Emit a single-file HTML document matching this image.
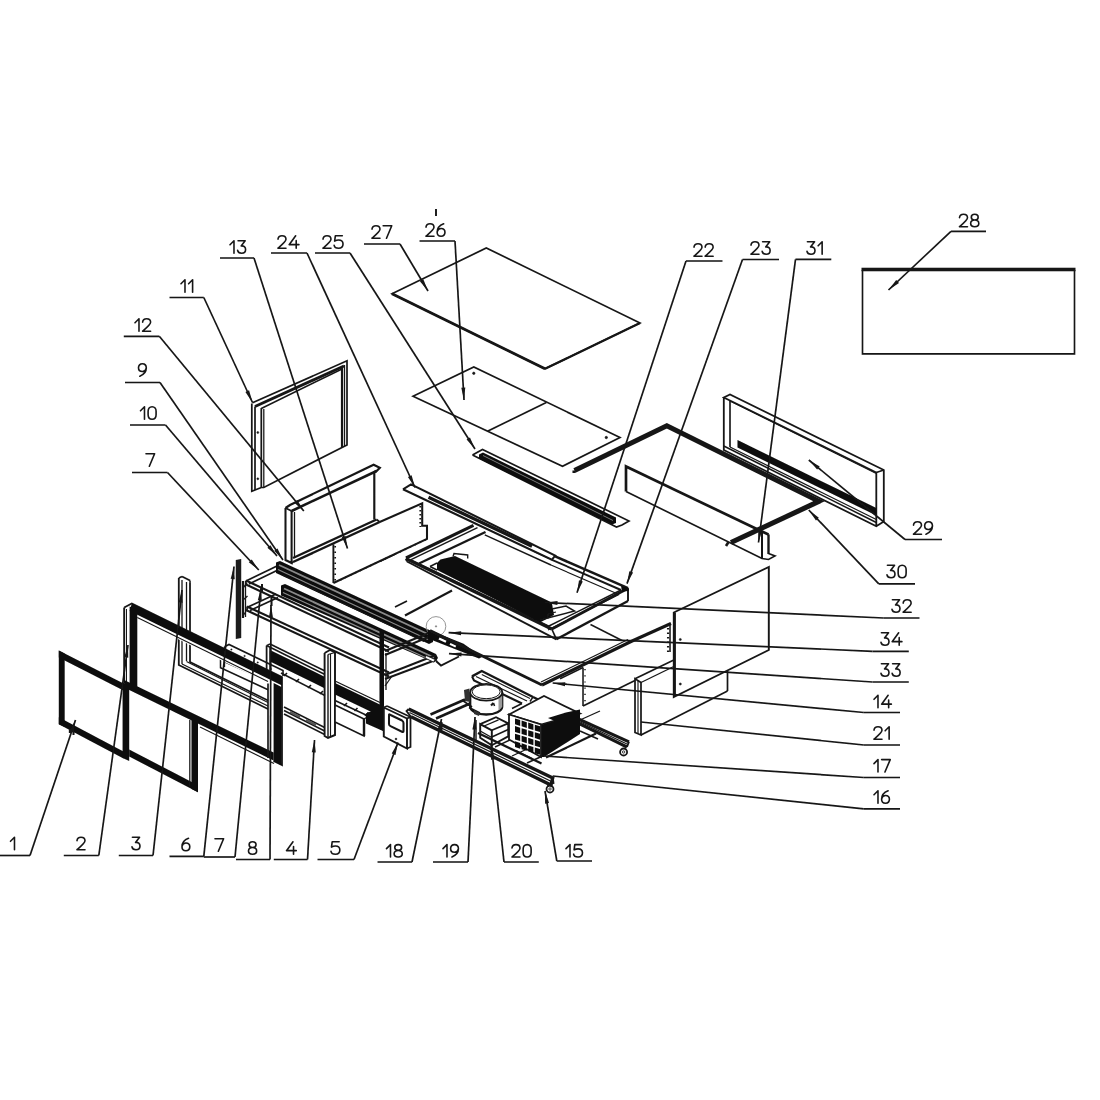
<!DOCTYPE html>
<html><head><meta charset="utf-8"><title>Exploded diagram</title>
<style>
html,body{margin:0;padding:0;background:#fff;font-family:"Liberation Sans",sans-serif;}
svg{display:block}
</style></head><body>
<svg width="1100" height="1100" viewBox="0 0 1100 1100">
<rect width="1100" height="1100" fill="#fff"/>
<defs><filter id="bl" x="0" y="0" width="100%" height="100%" filterUnits="userSpaceOnUse"><feGaussianBlur stdDeviation="0.5"/></filter></defs>
<g stroke-linecap="butt" filter="url(#bl)">
<polyline points="862.5,270 862.5,353.8 1074.5,353.8 1074.5,270" stroke="#161616" stroke-width="1.66" fill="none" stroke-linejoin="miter" />
<line x1="861.5" y1="269.5" x2="1075.5" y2="269.5" stroke="#161616" stroke-width="3.4" />
<polygon points="392,293.8 486.3,248 640,323 545,368.8" stroke="#161616" stroke-width="1.66" fill="none" stroke-linejoin="miter" />
<line x1="392" y1="293.8" x2="545" y2="368.8" stroke="#161616" stroke-width="2.82" />
<line x1="545" y1="368.8" x2="640" y2="323" stroke="#161616" stroke-width="2.3" />
<polygon points="413,396.3 473.8,367 620,437.5 562.5,466.3" stroke="#161616" stroke-width="1.66" fill="none" stroke-linejoin="miter" />
<line x1="487.5" y1="431.3" x2="546.3" y2="402.5" stroke="#161616" stroke-width="1.66" />
<circle cx="473.8" cy="373.3" r="1.2" stroke="#161616" stroke-width="0.6" fill="#161616"/>
<circle cx="606.3" cy="437.5" r="1.2" stroke="#161616" stroke-width="0.6" fill="#161616"/>
<polyline points="723.8,397.5 723.8,450 876.3,526.3 883.8,521.5 883.8,470 730,394.5 723.8,397.5 876.3,472.5 876.3,526.3" stroke="#161616" stroke-width="1.79" fill="none" stroke-linejoin="miter" />
<line x1="876.3" y1="472.5" x2="883.8" y2="470" stroke="#161616" stroke-width="1.66" />
<line x1="730" y1="401" x2="730" y2="447" stroke="#161616" stroke-width="1.66" />
<line x1="730" y1="401" x2="876.3" y2="473.5" stroke="#161616" stroke-width="1.15" />
<line x1="723.8" y1="446" x2="876.3" y2="522.5" stroke="#161616" stroke-width="1.54" />
<line x1="730" y1="447" x2="876.3" y2="519.5" stroke="#161616" stroke-width="1.28" />
<polygon points="737.5,440 876.3,508 876.3,515.5 737.5,447.5" fill="#0c0c0c" stroke="none" stroke-width="0"/>
<polyline points="574.5,470.5 666.8,425.8 819,501.3 731,542.5" stroke="#161616" stroke-width="5.0" fill="none" stroke-linejoin="miter" stroke-linejoin="miter"/>
<line x1="574" y1="470.5" x2="574" y2="473" stroke="#161616" stroke-width="3.07" />
<line x1="728.5" y1="542" x2="726" y2="546" stroke="#161616" stroke-width="2.56" />
<polyline points="626,491.6 762,558.5 768.5,559.5 775,556 768.5,553.5 768.5,534.5" stroke="#161616" stroke-width="1.66" fill="none" stroke-linejoin="miter" />
<polyline points="626,491.6 626,466.5 762,531.5 768.5,534.5" stroke="#161616" stroke-width="2.69" fill="none" stroke-linejoin="miter" />
<line x1="762" y1="531.5" x2="762" y2="558.5" stroke="#161616" stroke-width="2.05" />
<line x1="768.5" y1="534.5" x2="768.5" y2="554" stroke="#161616" stroke-width="2.05" />
<polyline points="472.5,455 482.5,449.5 629,521 622,525 616.5,527 472.5,455" stroke="#161616" stroke-width="1.66" fill="#fff" stroke-linejoin="miter" />
<polygon points="479,454.5 483,452.5 616,517.5 616,523 612,524.5 479,458.5" fill="#0c0c0c" stroke="none" stroke-width="0"/>
<line x1="483" y1="455.5" x2="613" y2="520.5" stroke="#888" stroke-width="0.9" />
<polyline points="379.7,522 422.2,503.3 422.2,525.7 427,525.7 427,538.9 333.4,583" stroke="#161616" stroke-width="2.05" fill="none" stroke-linejoin="miter" />
<line x1="333.4" y1="544.3" x2="333.4" y2="583" stroke="#161616" stroke-width="1.92" />
<line x1="420.3" y1="506" x2="420.3" y2="527" stroke="#161616" stroke-width="1.79" stroke-dasharray="1.5 2.5"/>
<line x1="426" y1="539.5" x2="337" y2="581.5" stroke="#161616" stroke-width="1.66" stroke-dasharray="1.5 4"/>
<line x1="335.2" y1="546" x2="335.2" y2="582" stroke="#161616" stroke-width="1.66" stroke-dasharray="1.5 4"/>
<line x1="380" y1="561.5" x2="395" y2="554.5" stroke="#161616" stroke-width="1.28" />
<line x1="405" y1="615.5" x2="452" y2="590.5" stroke="#161616" stroke-width="2.05" />
<line x1="395" y1="607" x2="407" y2="601" stroke="#161616" stroke-width="1.54" />
<polyline points="542,685 631,641.5 671,623.5" stroke="#161616" stroke-width="3.07" fill="none" stroke-linejoin="miter" />
<line x1="541" y1="682" x2="628" y2="639.5" stroke="#161616" stroke-width="1.15" />
<line x1="590.5" y1="624.5" x2="622" y2="640.5" stroke="#161616" stroke-width="1.54" />
<line x1="560" y1="678.8" x2="583" y2="667.5" stroke="#161616" stroke-width="1.54" />
<line x1="406" y1="558" x2="473.5" y2="525.3" stroke="#161616" stroke-width="3.07" />
<line x1="410.5" y1="559.8" x2="477.5" y2="527.6" stroke="#161616" stroke-width="1.41" />
<line x1="419" y1="563.5" x2="485.5" y2="532" stroke="#161616" stroke-width="2.3" />
<line x1="484.8" y1="534.8" x2="551" y2="565" stroke="#161616" stroke-width="1.41" />
<line x1="555.2" y1="556.4" x2="628" y2="588.2" stroke="#161616" stroke-width="2.56" />
<line x1="552" y1="559.8" x2="621" y2="590" stroke="#161616" stroke-width="1.92" />
<line x1="551" y1="565" x2="619" y2="594.5" stroke="#161616" stroke-width="1.15" />
<line x1="628" y1="588.2" x2="628" y2="601" stroke="#161616" stroke-width="1.92" />
<line x1="628" y1="588.2" x2="551.8" y2="629" stroke="#161616" stroke-width="2.82" />
<polygon points="621,586 628.5,588 628.5,591 622,591.5" fill="#0c0c0c" stroke="none" stroke-width="0"/>
<line x1="621" y1="590" x2="549" y2="626" stroke="#161616" stroke-width="1.41" />
<line x1="619" y1="594.5" x2="548" y2="630" stroke="#161616" stroke-width="1.15" />
<line x1="628" y1="601" x2="556.4" y2="639.3" stroke="#161616" stroke-width="2.43" />
<line x1="406" y1="558.6" x2="551.8" y2="629" stroke="#161616" stroke-width="3.07" />
<line x1="407" y1="561.5" x2="556.4" y2="639.3" stroke="#161616" stroke-width="1.92" />
<line x1="410.5" y1="559.5" x2="549" y2="626" stroke="#161616" stroke-width="1.28" />
<line x1="551.8" y1="629" x2="556.4" y2="639.3" stroke="#161616" stroke-width="1.66" />
<line x1="406" y1="558.6" x2="407" y2="561.5" stroke="#161616" stroke-width="1.92" />
<polygon points="440.5,559.5 455,556 551.8,602.5 554,615 540.5,622.3 437,570 437,563" fill="#0c0c0c" stroke="none" stroke-width="0"/>
<polyline points="453,556.4 454,553.5 467.7,555 467.7,558.5" stroke="#161616" stroke-width="1.41" fill="none" stroke-linejoin="miter" />
<polyline points="540,620 574.5,611 566,606 551.8,609" stroke="#161616" stroke-width="1.54" fill="none" stroke-linejoin="miter" />
<polyline points="548,618.5 548,614 556,612" stroke="#161616" stroke-width="1.28" fill="none" stroke-linejoin="miter" />
<line x1="430" y1="566.5" x2="437" y2="563" stroke="#161616" stroke-width="1.41" />
<line x1="430" y1="566.5" x2="437" y2="570" stroke="#161616" stroke-width="1.41" />
<polyline points="403,489.3 411,484.3 555.2,555.6 551.8,559.8 403,489.3" stroke="#161616" stroke-width="2.05" fill="#fff" stroke-linejoin="miter" />
<line x1="428.5" y1="497.3" x2="532" y2="546.3" stroke="#161616" stroke-width="3.3" />
<line x1="533" y1="551" x2="548" y2="558" stroke="#161616" stroke-width="1.15" />
<polyline points="285.5,508 285.5,560 291.6,563 291.6,511" stroke="#161616" stroke-width="2.05" fill="#fff" stroke-linejoin="miter" />
<polyline points="285.5,508 290,505 373.6,464.7 379.8,467.8 376.6,471 374.3,472 374.3,519.5" stroke="#161616" stroke-width="2.18" fill="none" stroke-linejoin="miter" />
<line x1="285.5" y1="508" x2="291.6" y2="511" stroke="#161616" stroke-width="1.79" />
<line x1="291.6" y1="511" x2="376.6" y2="471" stroke="#161616" stroke-width="2.56" />
<line x1="293" y1="558" x2="376.6" y2="519.5" stroke="#161616" stroke-width="2.3" />
<line x1="293" y1="562" x2="379.7" y2="522" stroke="#161616" stroke-width="2.43" />
<line x1="291.6" y1="563" x2="293" y2="562" stroke="#161616" stroke-width="1.66" />
<line x1="376.6" y1="519.5" x2="379.7" y2="522" stroke="#161616" stroke-width="1.66" />
<line x1="294.5" y1="512" x2="294.5" y2="557" stroke="#161616" stroke-width="1.28" />
<polyline points="251.8,403.5 251.8,491.3 255,490 261.3,487.5 263.8,487.5 342,447.5 347,445 347,360.8 252.5,402.8" stroke="#161616" stroke-width="1.73" fill="none" stroke-linejoin="miter" />
<line x1="255" y1="406.5" x2="255" y2="490" stroke="#161616" stroke-width="1.73" />
<line x1="261.3" y1="408" x2="261.3" y2="487.5" stroke="#161616" stroke-width="1.73" />
<line x1="263.8" y1="409" x2="263.8" y2="487.5" stroke="#161616" stroke-width="1.28" />
<line x1="255" y1="406.5" x2="344" y2="366" stroke="#161616" stroke-width="2.94" />
<line x1="261.3" y1="408.5" x2="342" y2="369" stroke="#161616" stroke-width="1.54" />
<line x1="342" y1="367.5" x2="342" y2="447.5" stroke="#161616" stroke-width="2.18" />
<line x1="344.5" y1="365" x2="344.5" y2="446" stroke="#161616" stroke-width="1.28" />
<circle cx="257.8" cy="432.5" r="1.0" stroke="#161616" stroke-width="0.5" fill="#161616"/>
<circle cx="257.8" cy="478.8" r="1.0" stroke="#161616" stroke-width="0.5" fill="#161616"/>
<line x1="583" y1="667.5" x2="583" y2="706" stroke="#161616" stroke-width="1.54" />
<line x1="583" y1="706" x2="635" y2="680.5" stroke="#161616" stroke-width="1.66" />
<line x1="670" y1="625" x2="670" y2="652" stroke="#161616" stroke-width="1.54" />
<line x1="668" y1="628" x2="668" y2="652" stroke="#161616" stroke-width="2.05" stroke-dasharray="1.5 3"/>
<line x1="585" y1="669" x2="585" y2="704" stroke="#161616" stroke-width="1.41" stroke-dasharray="1.2 5"/>
<polygon points="635,678.8 635,732.5 641,735 641,682.5" stroke="#161616" stroke-width="1.73" fill="#fff" stroke-linejoin="miter" />
<line x1="635" y1="678.8" x2="673.8" y2="660" stroke="#161616" stroke-width="1.73" />
<line x1="641" y1="682.5" x2="673.8" y2="666.5" stroke="#161616" stroke-width="1.28" />
<line x1="641" y1="735" x2="727.5" y2="691" stroke="#161616" stroke-width="1.73" />
<line x1="727.5" y1="671" x2="727.5" y2="691" stroke="#161616" stroke-width="1.73" />
<line x1="638" y1="680.5" x2="638" y2="733.5" stroke="#161616" stroke-width="1.15" />
<polygon points="673.8,612.5 768.8,567 768.8,650 673.8,697" stroke="#161616" stroke-width="1.92" fill="#fff" stroke-linejoin="miter" />
<line x1="674.5" y1="612.5" x2="674.5" y2="697" stroke="#161616" stroke-width="2.82" />
<circle cx="680.3" cy="639.5" r="1.1" stroke="#161616" stroke-width="0.5" fill="#161616"/>
<circle cx="680.3" cy="684" r="1.1" stroke="#161616" stroke-width="0.5" fill="#161616"/>
<line x1="575" y1="717.5" x2="629" y2="741.8" stroke="#161616" stroke-width="3.07" />
<line x1="577" y1="722.5" x2="627" y2="747" stroke="#161616" stroke-width="3.07" />
<line x1="576" y1="720" x2="628" y2="744.5" stroke="#161616" stroke-width="1.15" />
<line x1="629" y1="741.8" x2="627" y2="747" stroke="#161616" stroke-width="1.79" />
<circle cx="623.6" cy="752" r="3.5" stroke="#161616" stroke-width="1.8" fill="none"/>
<circle cx="623.6" cy="752" r="1.2" stroke="#161616" stroke-width="0.8" fill="none"/>
<line x1="580" y1="720" x2="600" y2="711" stroke="#161616" stroke-width="1.28" />
<line x1="430.5" y1="714.5" x2="465" y2="699.5" stroke="#161616" stroke-width="2.56" />
<line x1="436" y1="718.5" x2="470" y2="703.5" stroke="#161616" stroke-width="2.56" />
<line x1="467.5" y1="704.5" x2="479" y2="710" stroke="#161616" stroke-width="1.41" />
<polyline points="472,676.4 481.8,671 533,697" stroke="#161616" stroke-width="2.43" fill="none" stroke-linejoin="miter" />
<polyline points="472,676.4 474,680.5 522,703.5" stroke="#161616" stroke-width="2.05" fill="none" stroke-linejoin="miter" />
<line x1="476" y1="676.5" x2="527" y2="701" stroke="#161616" stroke-width="1.28" />
<line x1="481.8" y1="674.5" x2="530" y2="698.5" stroke="#161616" stroke-width="1.15" />
<line x1="533" y1="697" x2="575" y2="717.5" stroke="#161616" stroke-width="2.3" />
<line x1="522" y1="703.5" x2="512" y2="708.5" stroke="#161616" stroke-width="1.41" />
<line x1="533" y1="697" x2="530" y2="701.5" stroke="#161616" stroke-width="1.41" />
<path d="M470.2 692.3 L470.2 706.5 A16 8 0 0 0 502.2 706.5 L502.2 692.3" stroke="#161616" stroke-width="2.3" fill="#fff"/>
<polygon points="498.5,697 502.2,694 502.2,707 498.5,710.5" fill="#9a9a9a" stroke="none" stroke-width="0"/>
<ellipse cx="486.2" cy="692.3" rx="16" ry="8.4" stroke="#161616" stroke-width="1.8" fill="#fff" transform="rotate(0 486.2 692.3)"/>
<ellipse cx="486.2" cy="691.8" rx="14" ry="6.9" stroke="#161616" stroke-width="1.0" fill="none" transform="rotate(0 486.2 691.8)"/>
<polygon points="464,690 469.5,688.5 470,702 465,701" fill="#333" stroke="none" stroke-width="0"/>
<line x1="462" y1="700" x2="472" y2="707" stroke="#161616" stroke-width="1.66" />
<line x1="469" y1="707.5" x2="480" y2="713" stroke="#161616" stroke-width="1.66" />
<line x1="491" y1="705.5" x2="493.5" y2="703" stroke="#161616" stroke-width="2.05" />
<line x1="493.5" y1="703" x2="494.5" y2="706" stroke="#161616" stroke-width="1.54" />
<polygon points="474,710 480,713 479,716 474,714" fill="#333" stroke="none" stroke-width="0"/>
<polygon points="480.2,724.1 491.8,730.3 491.8,745.3 480.2,737.8" stroke="#161616" stroke-width="1.92" fill="#fff" stroke-linejoin="miter" />
<polyline points="491.8,730.3 508.2,723.4 508.2,736.4 491.8,745.3" stroke="#161616" stroke-width="1.79" fill="none" stroke-linejoin="miter" />
<polyline points="480.2,724.1 496,717.2 508.2,723.4" stroke="#161616" stroke-width="1.79" fill="none" stroke-linejoin="miter" />
<line x1="483" y1="726.5" x2="498.5" y2="719.8" stroke="#161616" stroke-width="1.28" />
<line x1="491.8" y1="737" x2="508.2" y2="729.5" stroke="#161616" stroke-width="1.41" />
<line x1="480.2" y1="731" x2="491.8" y2="737.5" stroke="#161616" stroke-width="1.41" />
<line x1="478" y1="733" x2="541.5" y2="763.5" stroke="#161616" stroke-width="2.3" />
<line x1="495" y1="747" x2="512" y2="739" stroke="#161616" stroke-width="1.41" />
<line x1="512" y1="756" x2="540" y2="743" stroke="#161616" stroke-width="1.28" />
<line x1="516" y1="750.5" x2="532" y2="758.5" stroke="#161616" stroke-width="1.28" />
<line x1="527" y1="763" x2="541.5" y2="756.5" stroke="#161616" stroke-width="1.54" />
<line x1="546" y1="757.5" x2="596" y2="733.5" stroke="#161616" stroke-width="2.18" />
<line x1="580" y1="731" x2="598" y2="739" stroke="#161616" stroke-width="1.54" />
<polygon points="541,724.5 580,713.5 580,734 544,757 541,757" fill="#0c0c0c" stroke="none" stroke-width="0"/>
<polygon points="509,714.5 544,696 580,713.5 541,724.5" stroke="#161616" stroke-width="1.79" fill="#fff" stroke-linejoin="miter" />
<polygon points="509,714.5 541,724.5 541,757 509,739.5" stroke="#161616" stroke-width="1.79" fill="#fff" stroke-linejoin="miter" />
<polygon points="566,712.5 580,709.5 580,714 556,721.5 548,718" fill="#0c0c0c" stroke="none" stroke-width="0"/>
<polygon points="515.0,718.5 520.2,720.1 520.2,725.9 515.0,724.3" fill="#0c0c0c" stroke="none" stroke-width="0"/>
<polygon points="521.6,720.55 526.8000000000001,722.15 526.8000000000001,727.9499999999999 521.6,726.3499999999999" fill="#0c0c0c" stroke="none" stroke-width="0"/>
<polygon points="528.2,722.6 533.4000000000001,724.2 533.4000000000001,730.0 528.2,728.4" fill="#0c0c0c" stroke="none" stroke-width="0"/>
<polygon points="534.8,724.65 540.0,726.25 540.0,732.05 534.8,730.4499999999999" fill="#0c0c0c" stroke="none" stroke-width="0"/>
<polygon points="515.0,726.1 520.2,727.7 520.2,733.5 515.0,731.9" fill="#0c0c0c" stroke="none" stroke-width="0"/>
<polygon points="521.6,728.15 526.8000000000001,729.75 526.8000000000001,735.55 521.6,733.9499999999999" fill="#0c0c0c" stroke="none" stroke-width="0"/>
<polygon points="528.2,730.2 533.4000000000001,731.8000000000001 533.4000000000001,737.6 528.2,736.0" fill="#0c0c0c" stroke="none" stroke-width="0"/>
<polygon points="534.8,732.25 540.0,733.85 540.0,739.65 534.8,738.05" fill="#0c0c0c" stroke="none" stroke-width="0"/>
<polygon points="515.0,733.7 520.2,735.3000000000001 520.2,741.1 515.0,739.5" fill="#0c0c0c" stroke="none" stroke-width="0"/>
<polygon points="521.6,735.75 526.8000000000001,737.35 526.8000000000001,743.15 521.6,741.55" fill="#0c0c0c" stroke="none" stroke-width="0"/>
<polygon points="528.2,737.8000000000001 533.4000000000001,739.4000000000001 533.4000000000001,745.2 528.2,743.6" fill="#0c0c0c" stroke="none" stroke-width="0"/>
<polygon points="534.8,739.85 540.0,741.45 540.0,747.25 534.8,745.65" fill="#0c0c0c" stroke="none" stroke-width="0"/>
<polygon points="515.0,741.3 520.2,742.9 520.2,748.6999999999999 515.0,747.0999999999999" fill="#0c0c0c" stroke="none" stroke-width="0"/>
<polygon points="521.6,743.3499999999999 526.8000000000001,744.9499999999999 526.8000000000001,750.7499999999999 521.6,749.1499999999999" fill="#0c0c0c" stroke="none" stroke-width="0"/>
<polygon points="528.2,745.4 533.4000000000001,747.0 533.4000000000001,752.8 528.2,751.1999999999999" fill="#0c0c0c" stroke="none" stroke-width="0"/>
<polygon points="534.8,747.4499999999999 540.0,749.05 540.0,754.8499999999999 534.8,753.2499999999999" fill="#0c0c0c" stroke="none" stroke-width="0"/>
<polyline points="408.7,709 552.7,778 551,785 411,716.7" stroke="#161616" stroke-width="3.33" fill="none" stroke-linejoin="miter" />
<line x1="409.5" y1="712.5" x2="551.5" y2="781.5" stroke="#161616" stroke-width="1.28" />
<polyline points="408.7,709 406.5,711 411,716.7" stroke="#161616" stroke-width="1.79" fill="none" stroke-linejoin="miter" />
<line x1="552.7" y1="778" x2="553.5" y2="784" stroke="#161616" stroke-width="2.05" />
<circle cx="550" cy="789" r="3.5" stroke="#161616" stroke-width="1.8" fill="none"/>
<circle cx="550" cy="789" r="1.2" stroke="#161616" stroke-width="0.8" fill="none"/>
<line x1="548" y1="784.5" x2="548" y2="787" stroke="#161616" stroke-width="1.54" />
<line x1="441.5" y1="722" x2="441.5" y2="730" stroke="#161616" stroke-width="2.05" />
<line x1="491.5" y1="745" x2="491.5" y2="755" stroke="#161616" stroke-width="2.05" />
<line x1="476" y1="720" x2="476" y2="741" stroke="#161616" stroke-width="1.41" />
<polygon points="235.8,560 241.2,559 241.2,638 235.8,639" fill="#1a1a1a" stroke="none" stroke-width="0"/>
<line x1="243" y1="581" x2="243" y2="618" stroke="#161616" stroke-width="2.18" />
<line x1="245.5" y1="581" x2="245.5" y2="617" stroke="#161616" stroke-width="1.28" />
<polyline points="243,588 247,583" stroke="#161616" stroke-width="1.28" fill="none" stroke-linejoin="miter" />
<polyline points="243,616 248,608" stroke="#161616" stroke-width="1.28" fill="none" stroke-linejoin="miter" />
<polyline points="243,600 247.5,596" stroke="#161616" stroke-width="1.28" fill="none" stroke-linejoin="miter" />
<line x1="247" y1="580.5" x2="277" y2="566" stroke="#161616" stroke-width="1.79" />
<line x1="249" y1="584" x2="279" y2="569.5" stroke="#161616" stroke-width="1.79" />
<line x1="248" y1="607" x2="276" y2="594" stroke="#161616" stroke-width="1.79" />
<line x1="250" y1="610.5" x2="278" y2="597.5" stroke="#161616" stroke-width="1.79" />
<line x1="246" y1="580.5" x2="389" y2="647.5" stroke="#161616" stroke-width="2.05" />
<line x1="246" y1="584.5" x2="389" y2="651.5" stroke="#161616" stroke-width="2.05" />
<line x1="246" y1="580.5" x2="246" y2="584.5" stroke="#161616" stroke-width="1.54" />
<line x1="247" y1="606.5" x2="389" y2="672.5" stroke="#161616" stroke-width="2.05" />
<line x1="247" y1="610.5" x2="389" y2="676.5" stroke="#161616" stroke-width="2.05" />
<line x1="247" y1="606.5" x2="247" y2="610.5" stroke="#161616" stroke-width="1.54" />
<polygon points="276,562.5 280,561 433,632 433,642 429,644 276,573" fill="#0c0c0c" stroke="none" stroke-width="0"/>
<line x1="279" y1="565" x2="431" y2="635.5" stroke="#8a8a8a" stroke-width="1.92" />
<line x1="278" y1="569.5" x2="428" y2="639.5" stroke="#8a8a8a" stroke-width="1.15" />
<polygon points="281,585.5 285,584 436,654 438,658 434,662.5 281,595.5" fill="#0c0c0c" stroke="none" stroke-width="0"/>
<line x1="284" y1="588.5" x2="434" y2="657.5" stroke="#8a8a8a" stroke-width="1.92" />
<line x1="283" y1="592.5" x2="433" y2="661" stroke="#8a8a8a" stroke-width="1.15" />
<line x1="283" y1="575" x2="424" y2="641.5" stroke="#161616" stroke-width="1.28" />
<polygon points="379.5,629 384,631 384,731 379.5,729" fill="#0c0c0c" stroke="none" stroke-width="0"/>
<line x1="386" y1="653" x2="386" y2="690" stroke="#161616" stroke-width="1.28" />
<line x1="385" y1="651" x2="430" y2="632.5" stroke="#161616" stroke-width="1.92" />
<line x1="385" y1="655" x2="431" y2="636" stroke="#161616" stroke-width="1.92" />
<line x1="385" y1="675" x2="436" y2="655" stroke="#161616" stroke-width="1.92" />
<line x1="385" y1="679" x2="437" y2="659.5" stroke="#161616" stroke-width="1.92" />
<polyline points="385,686 392,676" stroke="#161616" stroke-width="1.28" fill="none" stroke-linejoin="miter" />
<line x1="262" y1="584" x2="262" y2="592" stroke="#161616" stroke-width="2.05" />
<line x1="271.5" y1="596" x2="271.5" y2="606" stroke="#161616" stroke-width="2.05" />
<circle cx="436" cy="626.4" r="9.8" stroke="#8a8a8a" stroke-width="0.9" fill="none"/>
<circle cx="436" cy="626.4" r="0.8" stroke="#777" stroke-width="0.3" fill="#777"/>
<polygon points="428,629.5 463.6,643.8 482,657 479,658.5 428,638.5" fill="#0c0c0c" stroke="none" stroke-width="0"/>
<polygon points="439.5,637.5 446.5,640.7 445.5,642.7 438.5,639.5" fill="#fff" stroke="none" stroke-width="0"/>
<polygon points="450.5,643 456.3,645.7 455.3,647.5 449.5,644.8" fill="#fff" stroke="none" stroke-width="0"/>
<line x1="430" y1="630.5" x2="542" y2="685" stroke="#161616" stroke-width="2.94" />
<polyline points="436,661 441,665.5 459,656.5" stroke="#161616" stroke-width="1.92" fill="none" stroke-linejoin="miter" />
<polygon points="426,655.5 435,659.5 433.5,662 425,658" fill="#fff" stroke="#161616" stroke-width="0.8"/>
<polyline points="178.8,578 178.8,665 270,710" stroke="#161616" stroke-width="1.79" fill="none" stroke-linejoin="miter" />
<polyline points="190,583 190,662 270,701.5" stroke="#161616" stroke-width="1.79" fill="none" stroke-linejoin="miter" />
<line x1="182" y1="580" x2="182" y2="664" stroke="#161616" stroke-width="1.28" />
<line x1="186.5" y1="582" x2="186.5" y2="661" stroke="#161616" stroke-width="1.28" />
<line x1="178.8" y1="578" x2="182" y2="576.5" stroke="#161616" stroke-width="1.54" />
<line x1="182" y1="576.5" x2="190" y2="580.5" stroke="#161616" stroke-width="1.54" />
<line x1="190" y1="580.5" x2="190" y2="583" stroke="#161616" stroke-width="1.54" />
<line x1="182" y1="664" x2="270" y2="707" stroke="#161616" stroke-width="1.28" />
<line x1="186.5" y1="661.5" x2="270" y2="703.5" stroke="#161616" stroke-width="1.15" />
<polyline points="224.5,646.8 229,644.5 283,670.5 283,676" stroke="#161616" stroke-width="1.66" fill="none" stroke-linejoin="miter" />
<polyline points="224.5,646.8 224.5,651 220.5,659 220.5,667.7 268.6,690" stroke="#161616" stroke-width="1.54" fill="none" stroke-linejoin="miter" />
<line x1="224.5" y1="661.8" x2="271.4" y2="682.7" stroke="#161616" stroke-width="1.54" />
<line x1="224.5" y1="651" x2="224.5" y2="667" stroke="#161616" stroke-width="1.28" />
<line x1="224.5" y1="651" x2="268" y2="671" stroke="#161616" stroke-width="1.41" />
<circle cx="231.4" cy="649.5" r="0.8" stroke="#161616" stroke-width="0.3" fill="#161616"/>
<circle cx="244.56666666666666" cy="656.0" r="0.8" stroke="#161616" stroke-width="0.3" fill="#161616"/>
<circle cx="257.73333333333335" cy="662.5" r="0.8" stroke="#161616" stroke-width="0.3" fill="#161616"/>
<circle cx="270.9" cy="669.0" r="0.8" stroke="#161616" stroke-width="0.3" fill="#161616"/>
<polyline points="266.6,645.6 266.6,676" stroke="#161616" stroke-width="1.79" fill="none" stroke-linejoin="miter" />
<line x1="270" y1="647.5" x2="270" y2="678" stroke="#161616" stroke-width="1.54" />
<line x1="266.6" y1="645.6" x2="270" y2="644" stroke="#161616" stroke-width="1.41" />
<line x1="270" y1="644" x2="325" y2="671" stroke="#161616" stroke-width="1.66" />
<line x1="266.6" y1="645.6" x2="325" y2="674.5" stroke="#161616" stroke-width="1.66" />
<polygon points="270,650 325,677 325,688.5 270,661.5" fill="#0c0c0c" stroke="none" stroke-width="0"/>
<polyline points="324.6,653 324.6,736 328,738 335,735 335,652.5 330,650 324.6,653" stroke="#161616" stroke-width="1.92" fill="#fff" stroke-linejoin="miter" />
<line x1="328" y1="654.5" x2="328" y2="738" stroke="#161616" stroke-width="1.41" />
<line x1="330.5" y1="654" x2="330.5" y2="737" stroke="#161616" stroke-width="1.15" />
<line x1="328" y1="654.5" x2="335" y2="652.5" stroke="#161616" stroke-width="1.28" />
<polygon points="335,683 383,706 383,717.5 335,694.5" fill="#0c0c0c" stroke="none" stroke-width="0"/>
<line x1="335" y1="681" x2="380" y2="702.5" stroke="#161616" stroke-width="1.28" />
<line x1="281" y1="673" x2="325" y2="695.5" stroke="#161616" stroke-width="1.54" />
<line x1="284" y1="676" x2="287" y2="673" stroke="#161616" stroke-width="1.66" />
<line x1="296" y1="682" x2="299" y2="679" stroke="#161616" stroke-width="1.66" />
<line x1="308" y1="688" x2="311" y2="685" stroke="#161616" stroke-width="1.66" />
<line x1="320" y1="694" x2="323" y2="691" stroke="#161616" stroke-width="1.66" />
<line x1="335" y1="700.5" x2="366" y2="715" stroke="#161616" stroke-width="1.54" />
<line x1="344.0" y1="706" x2="347.0" y2="703" stroke="#161616" stroke-width="1.66" />
<line x1="354.5" y1="711" x2="357.5" y2="708" stroke="#161616" stroke-width="1.66" />
<line x1="365.0" y1="716" x2="368.0" y2="713" stroke="#161616" stroke-width="1.66" />
<polygon points="335,705 364,719 364,736 335,722" stroke="#161616" stroke-width="1.66" fill="#fff" stroke-linejoin="miter" />
<polyline points="364,719 368,716.5 368,712" stroke="#161616" stroke-width="1.41" fill="none" stroke-linejoin="miter" />
<line x1="364" y1="719" x2="364" y2="736" stroke="#161616" stroke-width="2.43" />
<polygon points="366,713.5 383,706 383,731 366,723.5" fill="#0c0c0c" stroke="none" stroke-width="0"/>
<line x1="284" y1="707" x2="324.6" y2="727.5" stroke="#161616" stroke-width="1.66" />
<line x1="284" y1="710.5" x2="324.6" y2="731" stroke="#161616" stroke-width="1.66" />
<line x1="284" y1="714" x2="324.6" y2="734.5" stroke="#161616" stroke-width="1.66" />
<line x1="290" y1="712" x2="300" y2="717" stroke="#555" stroke-width="2.05" />
<line x1="306" y1="720" x2="316" y2="725" stroke="#555" stroke-width="2.05" />
<polygon points="383.8,707.5 407,718.5 407,748.5 383.8,736.5" stroke="#161616" stroke-width="1.92" fill="#fff" stroke-linejoin="miter" />
<polyline points="407,718.5 410.5,717 410.5,747 407,748.5" stroke="#161616" stroke-width="1.79" fill="none" stroke-linejoin="miter" />
<line x1="383.8" y1="707.5" x2="387" y2="706" stroke="#161616" stroke-width="1.41" />
<line x1="387" y1="706" x2="410.5" y2="717" stroke="#161616" stroke-width="1.41" />
<path d="M389.5 714.5 L402 720.5 Q403.5 721.5 403.5 723 L403.5 731 Q403.5 732.5 402 731.8 L390.5 726.2 Q389 725.5 389 724 L389 715.5 Q389 714 389.5 714.5Z" stroke="#161616" stroke-width="2.05" fill="none"/>
<circle cx="396" cy="739" r="0.9" stroke="#161616" stroke-width="0.5" fill="#161616"/>
<polygon points="124.2,607.5 131.8,603.5 282,677 282,765 268,758 268,683.5 137.3,619 137.3,686 124.2,680" fill="#fff" stroke="none" stroke-width="0"/>
<polyline points="124.2,607.5 131.8,603.5 282,677 282,765 273.5,761" stroke="#161616" stroke-width="1.79" fill="none" stroke-linejoin="miter" />
<line x1="124.2" y1="607.5" x2="124.2" y2="683" stroke="#161616" stroke-width="1.92" />
<line x1="126.5" y1="609" x2="126.5" y2="682" stroke="#161616" stroke-width="1.02" />
<polygon points="131.8,603.5 282,677 282,685.5 137.3,614.8 129.6,611" fill="#0c0c0c" stroke="none" stroke-width="0"/>
<line x1="137.3" y1="617.5" x2="268" y2="681.5" stroke="#161616" stroke-width="1.15" />
<line x1="200" y1="727" x2="274" y2="763.5" stroke="#161616" stroke-width="1.15" />
<polygon points="129.6,606.5 137.3,610 137.3,688 129.6,684" fill="#0c0c0c" stroke="none" stroke-width="0"/>
<polygon points="124.2,680 273.6,752.5 273.6,760.5 124.2,687.5" fill="#0c0c0c" stroke="none" stroke-width="0"/>
<line x1="268" y1="683.5" x2="268" y2="758" stroke="#161616" stroke-width="1.66" />
<polygon points="273.6,683 281.5,687 281.5,765 273.6,761" fill="#0c0c0c" stroke="none" stroke-width="0"/>
<polygon points="58.8,650.5 64.7,653.5 64.7,727 58.8,724.2" fill="#0c0c0c" stroke="none" stroke-width="0"/>
<polygon points="58.8,650.5 123.5,683.5 123.5,690.5 58.8,657.5" fill="#0c0c0c" stroke="none" stroke-width="0"/>
<polygon points="58.8,717.2 123.5,751.6 123.5,758.6 58.8,724.2" fill="#0c0c0c" stroke="none" stroke-width="0"/>
<polygon points="122.6,682.5 129.2,685.5 129.2,761 122.6,758" fill="#0c0c0c" stroke="none" stroke-width="0"/>
<polygon points="129.2,749.5 198,785.3 198,792.3 129.2,756.5" fill="#0c0c0c" stroke="none" stroke-width="0"/>
<polygon points="191.5,718.5 198,721.8 198,792.3 191.5,789" fill="#0c0c0c" stroke="none" stroke-width="0"/>
<line x1="189.8" y1="720" x2="189.8" y2="786" stroke="#161616" stroke-width="1.28" />
<line x1="70" y1="729.5" x2="70" y2="733" stroke="#161616" stroke-width="2.3" />
<line x1="73.5" y1="731.5" x2="73.5" y2="735" stroke="#161616" stroke-width="2.05" />
<path d="M0 4.5 L4.5 0 L4.5 14" transform="translate(230.00 240.80) scale(0.886 0.886)" stroke="#161616" stroke-width="1.6" vector-effect="non-scaling-stroke" fill="none" stroke-linecap="round" stroke-linejoin="round"/>
<path d="M0.5 0 L8.5 0 L4 5.8 C7 5.5 9 7 9 9.8 C9 12.5 7.2 14 4.5 14 C2 14 0.3 12.8 0 10.8" transform="translate(237.62 240.80) scale(0.886 0.886)" stroke="#161616" stroke-width="1.6" vector-effect="non-scaling-stroke" fill="none" stroke-linecap="round" stroke-linejoin="round"/>
<line x1="220" y1="258" x2="254" y2="258" stroke="#161616" stroke-width="1.69" />
<line x1="254" y1="258" x2="347.5" y2="548.5" stroke="#161616" stroke-width="1.69" />
<polygon points="347.5,548.5 341.76642666578647,537.2138962958337 345.57406330779594,535.988374691607" fill="#161616" stroke="none" stroke-width="0"/>
<path d="M0 3.8 C0.3 1.2 2 0 4.5 0 C7.2 0 9 1.5 9 4 C9 6.5 6.5 8.5 0 14 L9 14" transform="translate(278.00 235.80) scale(0.886 0.886)" stroke="#161616" stroke-width="1.6" vector-effect="non-scaling-stroke" fill="none" stroke-linecap="round" stroke-linejoin="round"/>
<path d="M6 0 L0 10 L9 10 M6.5 5.5 L6.5 14" transform="translate(289.16 235.80) scale(1.083 0.886)" stroke="#161616" stroke-width="1.6" vector-effect="non-scaling-stroke" fill="none" stroke-linecap="round" stroke-linejoin="round"/>
<line x1="271" y1="253" x2="307" y2="253" stroke="#161616" stroke-width="1.69" />
<line x1="307" y1="253" x2="415" y2="487.5" stroke="#161616" stroke-width="1.69" />
<polygon points="415,487.5 407.95438713999755,476.9829025188996 411.5875838759417,475.3096178814499" fill="#161616" stroke="none" stroke-width="0"/>
<path d="M0 3.8 C0.3 1.2 2 0 4.5 0 C7.2 0 9 1.5 9 4 C9 6.5 6.5 8.5 0 14 L9 14" transform="translate(323.00 235.80) scale(0.886 0.886)" stroke="#161616" stroke-width="1.6" vector-effect="non-scaling-stroke" fill="none" stroke-linecap="round" stroke-linejoin="round"/>
<path d="M8.3 0 L1.2 0 L0.5 6 C1.8 5.2 3 4.8 4.5 4.8 C7.3 4.8 9 6.5 9 9.3 C9 12.3 7.2 14 4.5 14 C2 14 0.3 12.8 0 10.8" transform="translate(334.16 235.80) scale(0.984 0.886)" stroke="#161616" stroke-width="1.6" vector-effect="non-scaling-stroke" fill="none" stroke-linecap="round" stroke-linejoin="round"/>
<line x1="315" y1="253" x2="350" y2="253" stroke="#161616" stroke-width="1.69" />
<line x1="350" y1="253" x2="475" y2="449" stroke="#161616" stroke-width="1.69" />
<polygon points="475,449 466.5923623492348,439.5362993954038 469.9648811101455,437.3854583489046" fill="#161616" stroke="none" stroke-width="0"/>
<path d="M0 3.8 C0.3 1.2 2 0 4.5 0 C7.2 0 9 1.5 9 4 C9 6.5 6.5 8.5 0 14 L9 14" transform="translate(372.00 225.80) scale(0.886 0.886)" stroke="#161616" stroke-width="1.6" vector-effect="non-scaling-stroke" fill="none" stroke-linecap="round" stroke-linejoin="round"/>
<path d="M0 0 L9 0 L3.5 14" transform="translate(383.16 225.80) scale(0.955 0.886)" stroke="#161616" stroke-width="1.6" vector-effect="non-scaling-stroke" fill="none" stroke-linecap="round" stroke-linejoin="round"/>
<line x1="364" y1="244" x2="400" y2="244" stroke="#161616" stroke-width="1.69" />
<line x1="400" y1="244" x2="428" y2="291" stroke="#161616" stroke-width="1.69" />
<polygon points="428,291 419.88423222350025,281.2848410513297 423.3206383991353,279.23762035095143" fill="#161616" stroke="none" stroke-width="0"/>
<path d="M0 3.8 C0.3 1.2 2 0 4.5 0 C7.2 0 9 1.5 9 4 C9 6.5 6.5 8.5 0 14 L9 14" transform="translate(426.00 223.80) scale(0.886 0.886)" stroke="#161616" stroke-width="1.6" vector-effect="non-scaling-stroke" fill="none" stroke-linecap="round" stroke-linejoin="round"/>
<path d="M7.5 0 C3.5 1.5 0 5 0 9.5 C0 12.3 1.8 14 4.5 14 C7.2 14 9 12.3 9 9.6 C9 7 7.2 5.3 4.5 5.3 C2.3 5.3 0.5 6.8 0 9" transform="translate(437.16 223.80) scale(0.866 0.886)" stroke="#161616" stroke-width="1.6" vector-effect="non-scaling-stroke" fill="none" stroke-linecap="round" stroke-linejoin="round"/>
<line x1="419.5" y1="241" x2="455" y2="241" stroke="#161616" stroke-width="1.69" />
<line x1="455" y1="241" x2="464" y2="400" stroke="#161616" stroke-width="1.69" />
<polygon points="464,400 461.2967799082496,387.6330035523755 465.29038729118395,387.4069503042849" fill="#161616" stroke="none" stroke-width="0"/>
<line x1="436" y1="209" x2="436" y2="216" stroke="#161616" stroke-width="1.92" />
<path d="M0 3.8 C0.3 1.2 2 0 4.5 0 C7.2 0 9 1.5 9 4 C9 6.5 6.5 8.5 0 14 L9 14" transform="translate(694.00 243.80) scale(0.886 0.886)" stroke="#161616" stroke-width="1.6" vector-effect="non-scaling-stroke" fill="none" stroke-linecap="round" stroke-linejoin="round"/>
<path d="M0 3.8 C0.3 1.2 2 0 4.5 0 C7.2 0 9 1.5 9 4 C9 6.5 6.5 8.5 0 14 L9 14" transform="translate(705.16 243.80) scale(0.886 0.886)" stroke="#161616" stroke-width="1.6" vector-effect="non-scaling-stroke" fill="none" stroke-linecap="round" stroke-linejoin="round"/>
<line x1="686" y1="261" x2="722.5" y2="261" stroke="#161616" stroke-width="1.69" />
<line x1="686" y1="261" x2="577" y2="592.7" stroke="#161616" stroke-width="1.69" />
<polygon points="577,592.7 579.0022899032347,580.2003665996397 582.8023732155102,581.4491126986388" fill="#161616" stroke="none" stroke-width="0"/>
<path d="M0 3.8 C0.3 1.2 2 0 4.5 0 C7.2 0 9 1.5 9 4 C9 6.5 6.5 8.5 0 14 L9 14" transform="translate(751.00 241.80) scale(0.886 0.886)" stroke="#161616" stroke-width="1.6" vector-effect="non-scaling-stroke" fill="none" stroke-linecap="round" stroke-linejoin="round"/>
<path d="M0.5 0 L8.5 0 L4 5.8 C7 5.5 9 7 9 9.8 C9 12.5 7.2 14 4.5 14 C2 14 0.3 12.8 0 10.8" transform="translate(762.16 241.80) scale(0.886 0.886)" stroke="#161616" stroke-width="1.6" vector-effect="non-scaling-stroke" fill="none" stroke-linecap="round" stroke-linejoin="round"/>
<line x1="742.5" y1="259.5" x2="779" y2="259.5" stroke="#161616" stroke-width="1.69" />
<line x1="742.5" y1="259.5" x2="627" y2="583.6" stroke="#161616" stroke-width="1.69" />
<polygon points="627,583.6 629.3122051698188,571.1539682126124 633.0800925209003,572.4967358431275" fill="#161616" stroke="none" stroke-width="0"/>
<path d="M0.5 0 L8.5 0 L4 5.8 C7 5.5 9 7 9 9.8 C9 12.5 7.2 14 4.5 14 C2 14 0.3 12.8 0 10.8" transform="translate(807.00 241.80) scale(0.886 0.886)" stroke="#161616" stroke-width="1.6" vector-effect="non-scaling-stroke" fill="none" stroke-linecap="round" stroke-linejoin="round"/>
<path d="M0 4.5 L4.5 0 L4.5 14" transform="translate(818.16 241.80) scale(0.886 0.886)" stroke="#161616" stroke-width="1.6" vector-effect="non-scaling-stroke" fill="none" stroke-linecap="round" stroke-linejoin="round"/>
<line x1="795.5" y1="259.3" x2="831.3" y2="259.3" stroke="#161616" stroke-width="1.69" />
<line x1="795.5" y1="259.3" x2="758.5" y2="542.5" stroke="#161616" stroke-width="1.69" />
<polygon points="758.5,542.5 758.1362131340052,529.8462393291113 762.1025053553617,530.36443428741" fill="#161616" stroke="none" stroke-width="0"/>
<path d="M0 3.8 C0.3 1.2 2 0 4.5 0 C7.2 0 9 1.5 9 4 C9 6.5 6.5 8.5 0 14 L9 14" transform="translate(959.50 214.30) scale(0.886 0.886)" stroke="#161616" stroke-width="1.6" vector-effect="non-scaling-stroke" fill="none" stroke-linecap="round" stroke-linejoin="round"/>
<path d="M4.5 0 C2 0 0.7 1.3 0.7 3.3 C0.7 5.2 2.3 6.5 4.5 6.5 C6.7 6.5 8.3 5.2 8.3 3.3 C8.3 1.3 7 0 4.5 0Z M4.5 6.5 C1.8 6.5 0 8 0 10.3 C0 12.6 1.8 14 4.5 14 C7.2 14 9 12.6 9 10.3 C9 8 7.2 6.5 4.5 6.5Z" transform="translate(970.66 214.30) scale(0.905 0.886)" stroke="#161616" stroke-width="1.6" vector-effect="non-scaling-stroke" fill="none" stroke-linecap="round" stroke-linejoin="round"/>
<line x1="951" y1="231.3" x2="986" y2="231.3" stroke="#161616" stroke-width="1.69" />
<line x1="951" y1="231.3" x2="888.5" y2="290" stroke="#161616" stroke-width="1.69" />
<polygon points="888.5,290 896.2422819432844,279.9846582529255 898.9806833898207,282.9003327062223" fill="#161616" stroke="none" stroke-width="0"/>
<path d="M0 4.5 L4.5 0 L4.5 14" transform="translate(181.00 279.80) scale(0.886 0.886)" stroke="#161616" stroke-width="1.6" vector-effect="non-scaling-stroke" fill="none" stroke-linecap="round" stroke-linejoin="round"/>
<path d="M0 4.5 L4.5 0 L4.5 14" transform="translate(188.62 279.80) scale(0.886 0.886)" stroke="#161616" stroke-width="1.6" vector-effect="non-scaling-stroke" fill="none" stroke-linecap="round" stroke-linejoin="round"/>
<line x1="169.5" y1="297.5" x2="203.8" y2="297.5" stroke="#161616" stroke-width="1.69" />
<line x1="203.8" y1="297.5" x2="252.5" y2="402.5" stroke="#161616" stroke-width="1.69" />
<polygon points="252.5,402.5 245.42620354494204,392.00183807933934 249.0548991310481,390.3188145074978" fill="#161616" stroke="none" stroke-width="0"/>
<path d="M0 4.5 L4.5 0 L4.5 14" transform="translate(135.00 318.80) scale(0.886 0.886)" stroke="#161616" stroke-width="1.6" vector-effect="non-scaling-stroke" fill="none" stroke-linecap="round" stroke-linejoin="round"/>
<path d="M0 3.8 C0.3 1.2 2 0 4.5 0 C7.2 0 9 1.5 9 4 C9 6.5 6.5 8.5 0 14 L9 14" transform="translate(142.62 318.80) scale(0.886 0.886)" stroke="#161616" stroke-width="1.6" vector-effect="non-scaling-stroke" fill="none" stroke-linecap="round" stroke-linejoin="round"/>
<line x1="123.8" y1="336.3" x2="159.3" y2="336.3" stroke="#161616" stroke-width="1.69" />
<line x1="159.3" y1="336.3" x2="303.8" y2="511" stroke="#161616" stroke-width="1.69" />
<polygon points="303.8,511 294.2918669005058,502.64264366188075 297.3741313729046,500.0932033856264" fill="#161616" stroke="none" stroke-width="0"/>
<path d="M1.5 14 C5.5 12.5 9 9 9 4.5 C9 1.7 7.2 0 4.5 0 C1.8 0 0 1.7 0 4.4 C0 7 1.8 8.7 4.5 8.7 C6.7 8.7 8.5 7.2 9 5" transform="translate(138.50 363.80) scale(0.866 0.886)" stroke="#161616" stroke-width="1.6" vector-effect="non-scaling-stroke" fill="none" stroke-linecap="round" stroke-linejoin="round"/>
<line x1="125" y1="382.5" x2="160" y2="382.5" stroke="#161616" stroke-width="1.69" />
<line x1="160" y1="382.5" x2="283" y2="560" stroke="#161616" stroke-width="1.69" />
<polygon points="283,560 274.2364769448053,550.8648665219893 277.5242451715891,548.5865820606124" fill="#161616" stroke="none" stroke-width="0"/>
<path d="M0 4.5 L4.5 0 L4.5 14" transform="translate(140.50 406.80) scale(0.886 0.886)" stroke="#161616" stroke-width="1.6" vector-effect="non-scaling-stroke" fill="none" stroke-linecap="round" stroke-linejoin="round"/>
<path d="M4.5 0 C1.5 0 0 2 0 5 L0 9 C0 12 1.5 14 4.5 14 C7.5 14 9 12 9 9 L9 5 C9 2 7.5 0 4.5 0Z" transform="translate(148.12 406.80) scale(0.886 0.886)" stroke="#161616" stroke-width="1.6" vector-effect="non-scaling-stroke" fill="none" stroke-linecap="round" stroke-linejoin="round"/>
<line x1="130" y1="425" x2="165.5" y2="425" stroke="#161616" stroke-width="1.69" />
<line x1="165.5" y1="425" x2="277" y2="556" stroke="#161616" stroke-width="1.69" />
<polygon points="277,556 267.3750511056495,547.7774481588049 270.4210865703269,545.1848301869611" fill="#161616" stroke="none" stroke-width="0"/>
<path d="M0 0 L9 0 L3.5 14" transform="translate(146.00 453.80) scale(0.955 0.886)" stroke="#161616" stroke-width="1.6" vector-effect="non-scaling-stroke" fill="none" stroke-linecap="round" stroke-linejoin="round"/>
<line x1="132" y1="472.5" x2="167.5" y2="472.5" stroke="#161616" stroke-width="1.69" />
<line x1="167.5" y1="472.5" x2="258.8" y2="570" stroke="#161616" stroke-width="1.69" />
<polygon points="258.8,570 248.79616129303474,562.2428606351939 251.7158971925419,559.5087899928862" fill="#161616" stroke="none" stroke-width="0"/>
<path d="M0 3.8 C0.3 1.2 2 0 4.5 0 C7.2 0 9 1.5 9 4 C9 6.5 6.5 8.5 0 14 L9 14" transform="translate(913.50 521.80) scale(0.886 0.886)" stroke="#161616" stroke-width="1.6" vector-effect="non-scaling-stroke" fill="none" stroke-linecap="round" stroke-linejoin="round"/>
<path d="M1.5 14 C5.5 12.5 9 9 9 4.5 C9 1.7 7.2 0 4.5 0 C1.8 0 0 1.7 0 4.4 C0 7 1.8 8.7 4.5 8.7 C6.7 8.7 8.5 7.2 9 5" transform="translate(924.66 521.80) scale(0.866 0.886)" stroke="#161616" stroke-width="1.6" vector-effect="non-scaling-stroke" fill="none" stroke-linecap="round" stroke-linejoin="round"/>
<line x1="905" y1="539.5" x2="942" y2="539.5" stroke="#161616" stroke-width="1.69" />
<line x1="905" y1="539.5" x2="808.8" y2="460" stroke="#161616" stroke-width="1.69" />
<polygon points="808.8,460 819.7095777081038,466.4211458658751 817.16147215454,469.5045138438981" fill="#161616" stroke="none" stroke-width="0"/>
<path d="M0.5 0 L8.5 0 L4 5.8 C7 5.5 9 7 9 9.8 C9 12.5 7.2 14 4.5 14 C2 14 0.3 12.8 0 10.8" transform="translate(887.00 565.30) scale(0.886 0.886)" stroke="#161616" stroke-width="1.6" vector-effect="non-scaling-stroke" fill="none" stroke-linecap="round" stroke-linejoin="round"/>
<path d="M4.5 0 C1.5 0 0 2 0 5 L0 9 C0 12 1.5 14 4.5 14 C7.5 14 9 12 9 9 L9 5 C9 2 7.5 0 4.5 0Z" transform="translate(898.16 565.30) scale(0.886 0.886)" stroke="#161616" stroke-width="1.6" vector-effect="non-scaling-stroke" fill="none" stroke-linecap="round" stroke-linejoin="round"/>
<line x1="878.8" y1="583.8" x2="915" y2="583.8" stroke="#161616" stroke-width="1.69" />
<line x1="878.8" y1="583.8" x2="808.8" y2="510" stroke="#161616" stroke-width="1.69" />
<polygon points="808.8,510 818.8533387529657,517.6928785196516 815.9511818980121,520.445601823808" fill="#161616" stroke="none" stroke-width="0"/>
<path d="M0.5 0 L8.5 0 L4 5.8 C7 5.5 9 7 9 9.8 C9 12.5 7.2 14 4.5 14 C2 14 0.3 12.8 0 10.8" transform="translate(892.00 599.80) scale(0.886 0.886)" stroke="#161616" stroke-width="1.6" vector-effect="non-scaling-stroke" fill="none" stroke-linecap="round" stroke-linejoin="round"/>
<path d="M0 3.8 C0.3 1.2 2 0 4.5 0 C7.2 0 9 1.5 9 4 C9 6.5 6.5 8.5 0 14 L9 14" transform="translate(903.16 599.80) scale(0.886 0.886)" stroke="#161616" stroke-width="1.6" vector-effect="non-scaling-stroke" fill="none" stroke-linecap="round" stroke-linejoin="round"/>
<line x1="883.8" y1="618" x2="919.5" y2="618" stroke="#161616" stroke-width="1.69" />
<line x1="883.8" y1="618" x2="545" y2="602.5" stroke="#161616" stroke-width="1.69" />
<polygon points="545,602.5 557.5783428313845,601.0733635304816 557.3955352234271,605.0691840192515" fill="#161616" stroke="none" stroke-width="0"/>
<path d="M0.5 0 L8.5 0 L4 5.8 C7 5.5 9 7 9 9.8 C9 12.5 7.2 14 4.5 14 C2 14 0.3 12.8 0 10.8" transform="translate(881.00 632.80) scale(0.886 0.886)" stroke="#161616" stroke-width="1.6" vector-effect="non-scaling-stroke" fill="none" stroke-linecap="round" stroke-linejoin="round"/>
<path d="M6 0 L0 10 L9 10 M6.5 5.5 L6.5 14" transform="translate(892.16 632.80) scale(1.083 0.886)" stroke="#161616" stroke-width="1.6" vector-effect="non-scaling-stroke" fill="none" stroke-linecap="round" stroke-linejoin="round"/>
<line x1="872.5" y1="651.3" x2="908.8" y2="651.3" stroke="#161616" stroke-width="1.69" />
<line x1="872.5" y1="651.3" x2="448.6" y2="632.7" stroke="#161616" stroke-width="1.69" />
<polygon points="448.6,632.7 461.1756563940767,631.2498737095972 461.000312015715,635.2460286551637" fill="#161616" stroke="none" stroke-width="0"/>
<path d="M0.5 0 L8.5 0 L4 5.8 C7 5.5 9 7 9 9.8 C9 12.5 7.2 14 4.5 14 C2 14 0.3 12.8 0 10.8" transform="translate(881.00 663.80) scale(0.886 0.886)" stroke="#161616" stroke-width="1.6" vector-effect="non-scaling-stroke" fill="none" stroke-linecap="round" stroke-linejoin="round"/>
<path d="M0.5 0 L8.5 0 L4 5.8 C7 5.5 9 7 9 9.8 C9 12.5 7.2 14 4.5 14 C2 14 0.3 12.8 0 10.8" transform="translate(892.16 663.80) scale(0.886 0.886)" stroke="#161616" stroke-width="1.6" vector-effect="non-scaling-stroke" fill="none" stroke-linecap="round" stroke-linejoin="round"/>
<line x1="872.5" y1="682" x2="908.8" y2="682" stroke="#161616" stroke-width="1.69" />
<line x1="872.5" y1="682" x2="449" y2="653.6" stroke="#161616" stroke-width="1.69" />
<polygon points="449,653.6 461.60580760765714,652.440856109565 461.33816788010955,656.4318921876077" fill="#161616" stroke="none" stroke-width="0"/>
<path d="M0 4.5 L4.5 0 L4.5 14" transform="translate(874.00 695.30) scale(0.886 0.886)" stroke="#161616" stroke-width="1.6" vector-effect="non-scaling-stroke" fill="none" stroke-linecap="round" stroke-linejoin="round"/>
<path d="M6 0 L0 10 L9 10 M6.5 5.5 L6.5 14" transform="translate(881.62 695.30) scale(1.083 0.886)" stroke="#161616" stroke-width="1.6" vector-effect="non-scaling-stroke" fill="none" stroke-linecap="round" stroke-linejoin="round"/>
<line x1="863.8" y1="712.5" x2="900" y2="712.5" stroke="#161616" stroke-width="1.69" />
<line x1="863.8" y1="712.5" x2="552.7" y2="683" stroke="#161616" stroke-width="1.69" />
<polygon points="552.7,683 565.3329804608883,682.1889484142075 564.9553750668323,686.1710852986428" fill="#161616" stroke="none" stroke-width="0"/>
<path d="M0 3.8 C0.3 1.2 2 0 4.5 0 C7.2 0 9 1.5 9 4 C9 6.5 6.5 8.5 0 14 L9 14" transform="translate(874.00 726.80) scale(0.886 0.886)" stroke="#161616" stroke-width="1.6" vector-effect="non-scaling-stroke" fill="none" stroke-linecap="round" stroke-linejoin="round"/>
<path d="M0 4.5 L4.5 0 L4.5 14" transform="translate(885.16 726.80) scale(0.886 0.886)" stroke="#161616" stroke-width="1.6" vector-effect="non-scaling-stroke" fill="none" stroke-linecap="round" stroke-linejoin="round"/>
<line x1="863.8" y1="745" x2="900" y2="745" stroke="#161616" stroke-width="1.69" />
<line x1="863.8" y1="745" x2="641" y2="722" stroke="#161616" stroke-width="1.69" />
<path d="M0 4.5 L4.5 0 L4.5 14" transform="translate(874.00 759.60) scale(0.886 0.886)" stroke="#161616" stroke-width="1.6" vector-effect="non-scaling-stroke" fill="none" stroke-linecap="round" stroke-linejoin="round"/>
<path d="M0 0 L9 0 L3.5 14" transform="translate(881.62 759.60) scale(0.955 0.886)" stroke="#161616" stroke-width="1.6" vector-effect="non-scaling-stroke" fill="none" stroke-linecap="round" stroke-linejoin="round"/>
<line x1="863.8" y1="777.5" x2="900" y2="777.5" stroke="#161616" stroke-width="1.69" />
<line x1="863.8" y1="777.5" x2="544" y2="756" stroke="#161616" stroke-width="1.69" />
<path d="M0 4.5 L4.5 0 L4.5 14" transform="translate(874.00 790.80) scale(0.886 0.886)" stroke="#161616" stroke-width="1.6" vector-effect="non-scaling-stroke" fill="none" stroke-linecap="round" stroke-linejoin="round"/>
<path d="M7.5 0 C3.5 1.5 0 5 0 9.5 C0 12.3 1.8 14 4.5 14 C7.2 14 9 12.3 9 9.6 C9 7 7.2 5.3 4.5 5.3 C2.3 5.3 0.5 6.8 0 9" transform="translate(881.62 790.80) scale(0.866 0.886)" stroke="#161616" stroke-width="1.6" vector-effect="non-scaling-stroke" fill="none" stroke-linecap="round" stroke-linejoin="round"/>
<line x1="863.8" y1="808.8" x2="900" y2="808.8" stroke="#161616" stroke-width="1.69" />
<line x1="863.8" y1="808.8" x2="552.7" y2="776" stroke="#161616" stroke-width="1.69" />
<path d="M0 4.5 L4.5 0 L4.5 14" transform="translate(10.50 837.30) scale(0.886 0.886)" stroke="#161616" stroke-width="1.6" vector-effect="non-scaling-stroke" fill="none" stroke-linecap="round" stroke-linejoin="round"/>
<line x1="0" y1="855.5" x2="30" y2="855.5" stroke="#161616" stroke-width="1.69" />
<line x1="30" y1="855.5" x2="75.5" y2="720" stroke="#161616" stroke-width="1.69" />
<polygon points="75.5,720 73.41688967037088,732.4864186760893 69.62496423406863,731.2131153007996" fill="#161616" stroke="none" stroke-width="0"/>
<path d="M0 3.8 C0.3 1.2 2 0 4.5 0 C7.2 0 9 1.5 9 4 C9 6.5 6.5 8.5 0 14 L9 14" transform="translate(77.00 837.30) scale(0.886 0.886)" stroke="#161616" stroke-width="1.6" vector-effect="non-scaling-stroke" fill="none" stroke-linecap="round" stroke-linejoin="round"/>
<line x1="63.8" y1="855.5" x2="98.8" y2="855.5" stroke="#161616" stroke-width="1.69" />
<line x1="98.8" y1="855.5" x2="128" y2="645" stroke="#161616" stroke-width="1.69" />
<polygon points="128,645 128.26351003856232,657.6562459860567 124.30144838732154,657.1066393341981" fill="#161616" stroke="none" stroke-width="0"/>
<path d="M0.5 0 L8.5 0 L4 5.8 C7 5.5 9 7 9 9.8 C9 12.5 7.2 14 4.5 14 C2 14 0.3 12.8 0 10.8" transform="translate(132.00 837.30) scale(0.886 0.886)" stroke="#161616" stroke-width="1.6" vector-effect="non-scaling-stroke" fill="none" stroke-linecap="round" stroke-linejoin="round"/>
<line x1="118.8" y1="855.5" x2="153" y2="855.5" stroke="#161616" stroke-width="1.69" />
<line x1="153" y1="855.5" x2="182" y2="590" stroke="#161616" stroke-width="1.69" />
<polygon points="182,590 182.63089921626297,602.6432577359998 178.65454925975692,602.2089294921631" fill="#161616" stroke="none" stroke-width="0"/>
<path d="M7.5 0 C3.5 1.5 0 5 0 9.5 C0 12.3 1.8 14 4.5 14 C7.2 14 9 12.3 9 9.6 C9 7 7.2 5.3 4.5 5.3 C2.3 5.3 0.5 6.8 0 9" transform="translate(182.00 838.30) scale(0.866 0.886)" stroke="#161616" stroke-width="1.6" vector-effect="non-scaling-stroke" fill="none" stroke-linecap="round" stroke-linejoin="round"/>
<line x1="169.5" y1="856.3" x2="203.8" y2="856.3" stroke="#161616" stroke-width="1.69" />
<line x1="203.8" y1="856.3" x2="234" y2="566.5" stroke="#161616" stroke-width="1.69" />
<polygon points="234,566.5 234.6936214175141,579.1399718879895 230.71516546906113,578.7253777898416" fill="#161616" stroke="none" stroke-width="0"/>
<path d="M0 0 L9 0 L3.5 14" transform="translate(215.00 838.80) scale(0.955 0.886)" stroke="#161616" stroke-width="1.6" vector-effect="non-scaling-stroke" fill="none" stroke-linecap="round" stroke-linejoin="round"/>
<line x1="203.8" y1="857" x2="235" y2="857" stroke="#161616" stroke-width="1.69" />
<line x1="235" y1="857" x2="261" y2="588" stroke="#161616" stroke-width="1.69" />
<polygon points="261,588 261.7881486578594,600.6344300106144 257.8067028557153,600.2496062527863" fill="#161616" stroke="none" stroke-width="0"/>
<path d="M4.5 0 C2 0 0.7 1.3 0.7 3.3 C0.7 5.2 2.3 6.5 4.5 6.5 C6.7 6.5 8.3 5.2 8.3 3.3 C8.3 1.3 7 0 4.5 0Z M4.5 6.5 C1.8 6.5 0 8 0 10.3 C0 12.6 1.8 14 4.5 14 C7.2 14 9 12.6 9 10.3 C9 8 7.2 6.5 4.5 6.5Z" transform="translate(248.50 841.80) scale(0.905 0.886)" stroke="#161616" stroke-width="1.6" vector-effect="non-scaling-stroke" fill="none" stroke-linecap="round" stroke-linejoin="round"/>
<line x1="236" y1="859.5" x2="270" y2="859.5" stroke="#161616" stroke-width="1.69" />
<line x1="270" y1="859.5" x2="271" y2="605" stroke="#161616" stroke-width="1.69" />
<polygon points="271,605 272.9508690265863,617.5077619917037 268.95089990460275,617.4920450206938" fill="#161616" stroke="none" stroke-width="0"/>
<path d="M6 0 L0 10 L9 10 M6.5 5.5 L6.5 14" transform="translate(286.50 841.80) scale(1.083 0.886)" stroke="#161616" stroke-width="1.6" vector-effect="non-scaling-stroke" fill="none" stroke-linecap="round" stroke-linejoin="round"/>
<line x1="273.8" y1="859.5" x2="307.5" y2="859.5" stroke="#161616" stroke-width="1.69" />
<line x1="307.5" y1="859.5" x2="314.5" y2="740" stroke="#161616" stroke-width="1.69" />
<polygon points="314.5,740 315.7656129295222,752.5955636599807 311.772457943967,752.361654999739" fill="#161616" stroke="none" stroke-width="0"/>
<path d="M8.3 0 L1.2 0 L0.5 6 C1.8 5.2 3 4.8 4.5 4.8 C7.3 4.8 9 6.5 9 9.3 C9 12.3 7.2 14 4.5 14 C2 14 0.3 12.8 0 10.8" transform="translate(331.00 841.80) scale(0.984 0.886)" stroke="#161616" stroke-width="1.6" vector-effect="non-scaling-stroke" fill="none" stroke-linecap="round" stroke-linejoin="round"/>
<line x1="317.5" y1="859.5" x2="354" y2="859.5" stroke="#161616" stroke-width="1.69" />
<line x1="354" y1="859.5" x2="398" y2="742.5" stroke="#161616" stroke-width="1.69" />
<polygon points="398,742.5 395.47200000000004,754.904 391.728,753.4960000000001" fill="#161616" stroke="none" stroke-width="0"/>
<path d="M0 4.5 L4.5 0 L4.5 14" transform="translate(386.50 844.60) scale(0.886 0.886)" stroke="#161616" stroke-width="1.6" vector-effect="non-scaling-stroke" fill="none" stroke-linecap="round" stroke-linejoin="round"/>
<path d="M4.5 0 C2 0 0.7 1.3 0.7 3.3 C0.7 5.2 2.3 6.5 4.5 6.5 C6.7 6.5 8.3 5.2 8.3 3.3 C8.3 1.3 7 0 4.5 0Z M4.5 6.5 C1.8 6.5 0 8 0 10.3 C0 12.6 1.8 14 4.5 14 C7.2 14 9 12.6 9 10.3 C9 8 7.2 6.5 4.5 6.5Z" transform="translate(394.12 844.60) scale(0.905 0.886)" stroke="#161616" stroke-width="1.6" vector-effect="non-scaling-stroke" fill="none" stroke-linecap="round" stroke-linejoin="round"/>
<line x1="377.5" y1="862" x2="412" y2="862" stroke="#161616" stroke-width="1.69" />
<line x1="412" y1="862" x2="441.5" y2="719" stroke="#161616" stroke-width="1.69" />
<polygon points="441.5,719 440.9332623810063,731.64629623531 437.0157527971464,730.8381386638146" fill="#161616" stroke="none" stroke-width="0"/>
<path d="M0 4.5 L4.5 0 L4.5 14" transform="translate(443.00 844.60) scale(0.886 0.886)" stroke="#161616" stroke-width="1.6" vector-effect="non-scaling-stroke" fill="none" stroke-linecap="round" stroke-linejoin="round"/>
<path d="M1.5 14 C5.5 12.5 9 9 9 4.5 C9 1.7 7.2 0 4.5 0 C1.8 0 0 1.7 0 4.4 C0 7 1.8 8.7 4.5 8.7 C6.7 8.7 8.5 7.2 9 5" transform="translate(450.62 844.60) scale(0.866 0.886)" stroke="#161616" stroke-width="1.6" vector-effect="non-scaling-stroke" fill="none" stroke-linecap="round" stroke-linejoin="round"/>
<line x1="433" y1="862" x2="468" y2="862" stroke="#161616" stroke-width="1.69" />
<line x1="468" y1="862" x2="475" y2="717" stroke="#161616" stroke-width="1.69" />
<polygon points="475,717 476.3949271901451,729.5818988286425 472.3995801763961,729.3890200072891" fill="#161616" stroke="none" stroke-width="0"/>
<path d="M0 3.8 C0.3 1.2 2 0 4.5 0 C7.2 0 9 1.5 9 4 C9 6.5 6.5 8.5 0 14 L9 14" transform="translate(512.00 844.60) scale(0.886 0.886)" stroke="#161616" stroke-width="1.6" vector-effect="non-scaling-stroke" fill="none" stroke-linecap="round" stroke-linejoin="round"/>
<path d="M4.5 0 C1.5 0 0 2 0 5 L0 9 C0 12 1.5 14 4.5 14 C7.5 14 9 12 9 9 L9 5 C9 2 7.5 0 4.5 0Z" transform="translate(523.16 844.60) scale(0.886 0.886)" stroke="#161616" stroke-width="1.6" vector-effect="non-scaling-stroke" fill="none" stroke-linecap="round" stroke-linejoin="round"/>
<line x1="504" y1="862" x2="538.8" y2="862" stroke="#161616" stroke-width="1.69" />
<line x1="504" y1="862" x2="491.6" y2="747" stroke="#161616" stroke-width="1.69" />
<polygon points="491.6,747 494.9285324708509,759.2135527833015 490.9515845836005,759.6423715120137" fill="#161616" stroke="none" stroke-width="0"/>
<path d="M0 4.5 L4.5 0 L4.5 14" transform="translate(566.00 844.60) scale(0.886 0.886)" stroke="#161616" stroke-width="1.6" vector-effect="non-scaling-stroke" fill="none" stroke-linecap="round" stroke-linejoin="round"/>
<path d="M8.3 0 L1.2 0 L0.5 6 C1.8 5.2 3 4.8 4.5 4.8 C7.3 4.8 9 6.5 9 9.3 C9 12.3 7.2 14 4.5 14 C2 14 0.3 12.8 0 10.8" transform="translate(573.62 844.60) scale(0.984 0.886)" stroke="#161616" stroke-width="1.6" vector-effect="non-scaling-stroke" fill="none" stroke-linecap="round" stroke-linejoin="round"/>
<line x1="556.8" y1="861" x2="592" y2="861" stroke="#161616" stroke-width="1.69" />
<line x1="556.8" y1="861" x2="545" y2="791" stroke="#161616" stroke-width="1.69" />
<polygon points="545,791 549.0500028394434,802.9936431913118 545.1056522479854,803.6585480053004" fill="#161616" stroke="none" stroke-width="0"/>
</g>
</svg>
</body></html>
